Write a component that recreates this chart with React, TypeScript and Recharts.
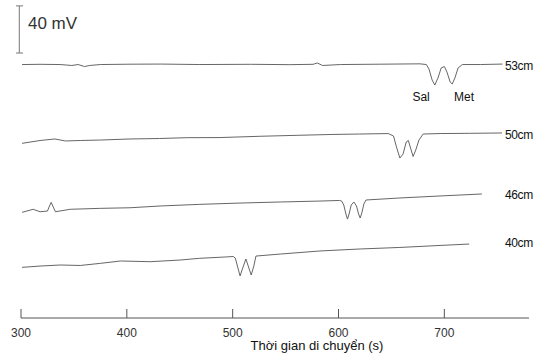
import React from 'react';
import { LineChart, Line, XAxis, YAxis, ReferenceDot, ReferenceLine } from 'recharts';

// Migration time (s) and detector signal (mV, stacked with vertical offsets) for each capillary length
const t53 = [301, 318, 337, 348, 354, 360, 365, 375, 403, 432, 469, 517, 554, 576, 580, 585, 602, 639, 677, 683, 685.5, 688.5, 691, 694, 697, 700, 702.5, 705.5, 707.5, 710, 713, 717, 734, 755];
const v53 = [215.2, 215.4, 215.2, 214.4, 215.2, 213.5, 214.4, 215.2, 215.5, 215.6, 215.2, 215.4, 215.1, 215.4, 216.5, 214.4, 215.2, 215.5, 215.8, 215.2, 211.4, 202.0, 197.8, 203.8, 212.3, 213.5, 208.8, 200.4, 198.7, 203.8, 212.3, 215.2, 215.2, 215.6];

const t50 = [301, 318, 332, 342, 356, 375, 403, 431, 457, 488, 526, 561, 592, 620, 647, 652, 654.5, 658, 661, 664, 666, 667.5, 670.5, 673, 676, 680, 696, 724, 754.5];
const v50 = [148.3, 150.7, 152.0, 150.3, 150.7, 151.1, 152.0, 152.4, 153.1, 153.2, 154.3, 155.1, 155.8, 156.2, 156.6, 154.5, 146.0, 135.8, 139.2, 149.4, 150.7, 146.0, 137.1, 142.6, 151.1, 156.2, 156.6, 156.8, 157.1];

const t46 = [301, 311.5, 318, 325, 326.5, 328.5, 330.5, 332.5, 346.5, 375, 403, 431.5, 469, 507, 545, 582.5, 601, 603, 605, 607, 608.5, 610, 612, 614.5, 617, 619, 620.5, 622, 624, 626, 658, 696, 735.5];
const v46 = [89.7, 92.3, 90.2, 90.8, 94.2, 98.2, 94.2, 90.2, 92.3, 93.1, 93.6, 95.1, 96.5, 97.6, 98.5, 99.3, 99.8, 99.3, 95.9, 88.3, 84.0, 88.3, 95.9, 98.5, 95.1, 88.3, 84.9, 89.1, 96.8, 100.2, 101.9, 103.6, 105.3];

const t40 = [301, 318, 337, 356, 375, 394, 422, 450, 469, 493, 500.5, 502.5, 504.5, 507, 509.5, 512.5, 515, 517.5, 520, 522, 545, 582.5, 620.5, 658, 696, 723.5];
const v40 = [43.0, 44.1, 45.0, 44.6, 46.4, 48.4, 47.8, 49.2, 50.7, 51.8, 52.2, 50.9, 44.1, 35.7, 42.4, 50.1, 43.3, 36.5, 44.1, 52.6, 54.3, 56.9, 58.6, 59.9, 61.6, 62.8];

const xTicks = [300, 400, 500, 600, 700];
const xDomain = [300, 780];
const yDomain = [0, 270];

const traceLabels = [
  { text: '53cm', t: 757.3, v: 214 },
  { text: '50cm', t: 757.3, v: 155.4 },
  { text: '46cm', t: 757.3, v: 104.4 },
  { text: '40cm', t: 757.3, v: 63.7 },
];
const peakLabels = [
  { text: 'Sal', t: 678, v: 187.6 },
  { text: 'Met', t: 718.6, v: 187.6 },
];
const scaleBar = { t: 298.4, capFrom: 295.3, capTo: 301.9, low: 225, high: 265, text: '40 mV', textT: 306.6, textV: 250.5 };

const zip = (ts: number[], vs: number[]) => ts.map((t, i) => ({ t, v: vs[i] }));
const traces = [zip(t53, v53), zip(t50, v50), zip(t46, v46), zip(t40, v40)];

const FONT = '"Liberation Sans", Arial, sans-serif';
const TRACE = '#555';
const TICK_MARGIN = 10;

const Tick = (props: any) => {
  const { x, y, payload } = props;
  const axisY = y - TICK_MARGIN;
  return (
    <g>
      <line x1={x} x2={x} y1={axisY} y2={axisY - 9} stroke="#555" strokeWidth={1} />
      <text x={x} y={y} dy="0.71em" textAnchor="middle" fontSize={12} fill="#333" fontFamily={FONT}>
        {payload.value}
      </text>
    </g>
  );
};

export default function App() {
  return (
    <div style={{ position: 'absolute', left: 0, top: 0, width: 538, height: 354, background: '#fff' }}>
      <LineChart width={538} height={354} margin={{ top: 0, right: 9, bottom: 0, left: 21 }}>
        <XAxis
          type="number"
          dataKey="t"
          domain={xDomain}
          ticks={xTicks}
          allowDataOverflow
          height={36}
          tickSize={0}
          tickMargin={TICK_MARGIN}
          tickLine={false}
          tick={<Tick />}
          axisLine={{ stroke: '#555', strokeWidth: 1 }}
          label={{ value: 'Thời gian di chuyển (s)', position: 'insideBottom', offset: 4, dx: 42, fontSize: 13, fill: '#111', fontFamily: FONT }}
        />
        <YAxis hide type="number" domain={yDomain} allowDataOverflow />
        {traces.map((d, i) => (
          <Line key={i} data={d} dataKey="v" type="linear" stroke={TRACE} strokeWidth={0.9} dot={false} isAnimationActive={false} />
        ))}
        <ReferenceLine segment={[{ x: scaleBar.t, y: scaleBar.low }, { x: scaleBar.t, y: scaleBar.high }]} stroke="#777" ifOverflow="visible" />
        <ReferenceLine segment={[{ x: scaleBar.capFrom, y: scaleBar.low }, { x: scaleBar.capTo, y: scaleBar.low }]} stroke="#777" ifOverflow="visible" />
        <ReferenceLine segment={[{ x: scaleBar.capFrom, y: scaleBar.high }, { x: scaleBar.capTo, y: scaleBar.high }]} stroke="#777" ifOverflow="visible" />
        <ReferenceDot x={scaleBar.textT} y={scaleBar.textV} r={0.01} fill="none" stroke="none" ifOverflow="visible"
          label={{ value: scaleBar.text, position: 'right', offset: 0, fontSize: 17, fill: '#333', fontFamily: FONT }} />
        {traceLabels.map((l) => (
          <ReferenceDot key={l.text} x={l.t} y={l.v} r={0.01} fill="none" stroke="none" ifOverflow="visible"
            label={{ value: l.text, position: 'right', offset: 0, fontSize: 12, fill: '#111', fontFamily: FONT, letterSpacing: -0.4 }} />
        ))}
        {peakLabels.map((l) => (
          <ReferenceDot key={l.text} x={l.t} y={l.v} r={0.01} fill="none" stroke="none" ifOverflow="visible"
            label={{ value: l.text, position: 'center', fontSize: 12, fill: '#111', fontFamily: FONT }} />
        ))}
      </LineChart>
    </div>
  );
}
